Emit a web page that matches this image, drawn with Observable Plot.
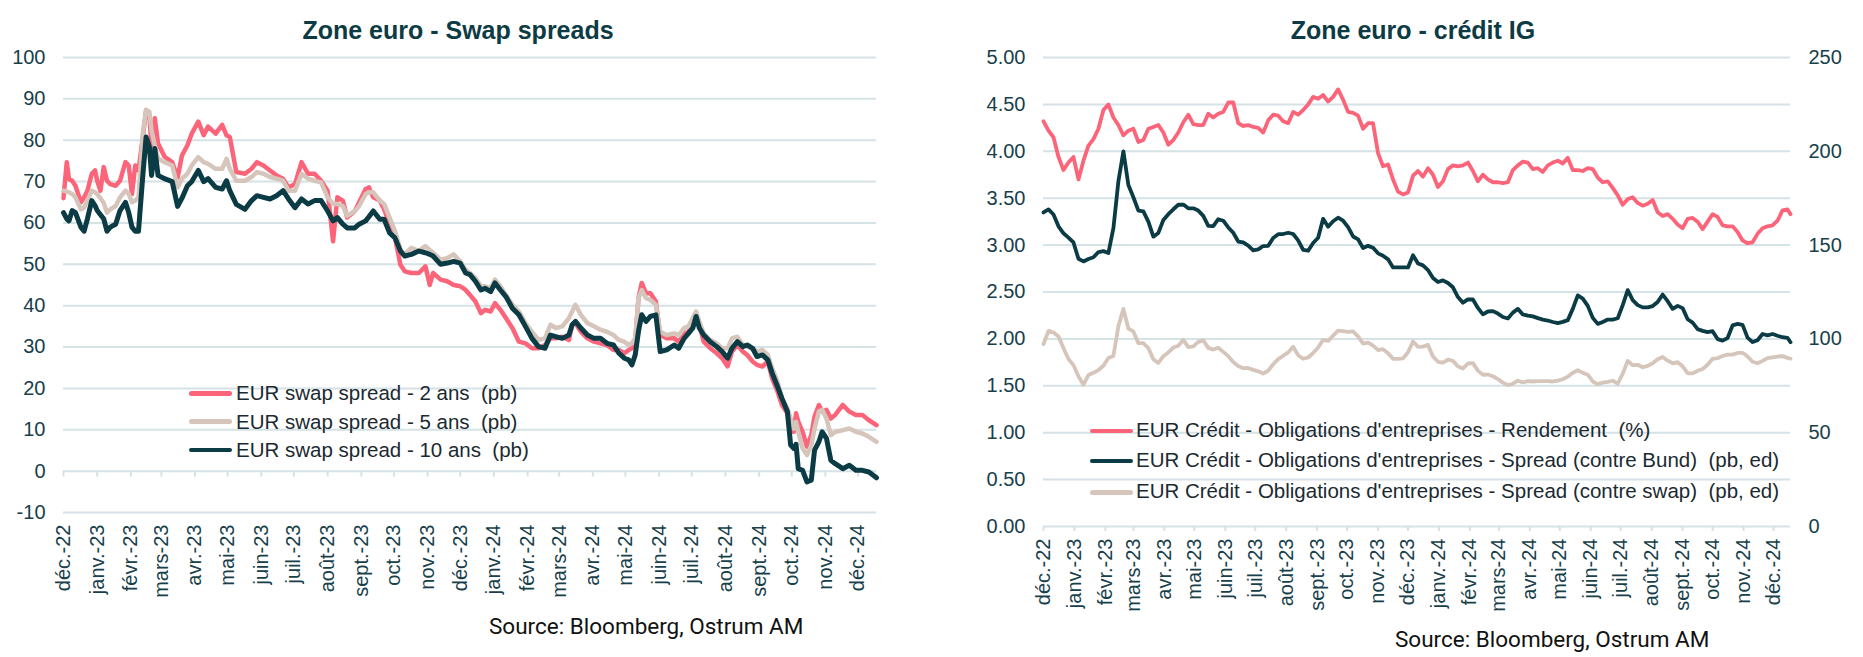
<!DOCTYPE html>
<html><head><meta charset="utf-8">
<script src="https://cdn.jsdelivr.net/npm/d3@7"></script>
<script src="https://cdn.jsdelivr.net/npm/@observablehq/plot@0.6"></script>
<style>
body{margin:0;background:#fff;width:1863px;height:657px;position:relative;overflow:hidden;font-family:Arial,"Liberation Sans",sans-serif;}
.abs{position:absolute;line-height:1;white-space:pre;}
.title{font-weight:bold;font-size:25px;color:#0d3b44;transform:translateX(-50%);}
.leg{font-size:20.5px;color:#1b2a30;}
.sw{height:4.5px;border-radius:3px;width:43px;}
.src{font-family:Roboto,"Liberation Sans",sans-serif;font-size:22.5px;color:#111;}
</style></head>
<body>
<div id="left" class="abs" style="left:0;top:0"></div>
<div id="right" class="abs" style="left:930px;top:0"></div>
<script>
// ---------- shared axis data ----------
const monthTicks = ["2022-12-01","2023-01-01","2023-02-01","2023-03-01","2023-04-01","2023-05-01","2023-06-01","2023-07-01","2023-08-01","2023-09-01","2023-10-01","2023-11-01","2023-12-01","2024-01-01","2024-02-01","2024-03-01","2024-04-01","2024-05-01","2024-06-01","2024-07-01","2024-08-01","2024-09-01","2024-10-01","2024-11-01","2024-12-01"];
const monthLabels = ["déc.-22","janv.-23","févr.-23","mars-23","avr.-23","mai-23","juin-23","juil.-23","août-23","sept.-23","oct.-23","nov.-23","déc.-23","janv.-24","févr.-24","mars-24","avr.-24","mai-24","juin-24","juil.-24","août-24","sept.-24","oct.-24","nov.-24","déc.-24"];
const xStart = "2022-12-01", xEnd = "2024-12-18";

// ---------- left chart: swap spreads (pb) ----------
const swapTitle = "Zone euro - Swap spreads";
const swapYTicks = [-10,0,10,20,30,40,50,60,70,80,90,100];
const swapSeries = ["EUR swap spread - 2 ans  (pb)","EUR swap spread - 5 ans  (pb)","EUR swap spread - 10 ans  (pb)"];
const swapDates = ["2022-12-01","2022-12-04","2022-12-06","2022-12-09","2022-12-12","2022-12-17","2022-12-20","2022-12-23","2022-12-27","2022-12-30",
"2023-01-01","2023-01-04","2023-01-07","2023-01-10","2023-01-13","2023-01-18","2023-01-22","2023-01-27","2023-01-30",
"2023-02-02","2023-02-05","2023-02-08","2023-02-12","2023-02-15","2023-02-18","2023-02-20","2023-02-23","2023-02-26",
"2023-03-04","2023-03-11","2023-03-16","2023-03-20","2023-03-25","2023-03-29",
"2023-04-04","2023-04-09","2023-04-13","2023-04-20","2023-04-26","2023-04-30",
"2023-05-03","2023-05-09","2023-05-17","2023-05-23","2023-05-28",
"2023-06-03","2023-06-09","2023-06-15","2023-06-21","2023-06-26",
"2023-07-02","2023-07-08","2023-07-14","2023-07-20","2023-07-26",
"2023-08-01","2023-08-06","2023-08-10","2023-08-15","2023-08-19","2023-08-26","2023-08-30",
"2023-09-05","2023-09-08","2023-09-12","2023-09-18","2023-09-22","2023-09-27",
"2023-10-02","2023-10-07","2023-10-11","2023-10-17","2023-10-24","2023-10-30",
"2023-11-03","2023-11-06","2023-11-13","2023-11-19","2023-11-25",
"2023-12-01","2023-12-06","2023-12-10","2023-12-15","2023-12-20","2023-12-24","2023-12-29",
"2024-01-02","2024-01-07","2024-01-12","2024-01-18","2024-01-24","2024-01-30",
"2024-02-05","2024-02-11","2024-02-17","2024-02-22","2024-02-27",
"2024-03-04","2024-03-10","2024-03-13","2024-03-16","2024-03-21","2024-03-27",
"2024-04-02","2024-04-08","2024-04-14","2024-04-20","2024-04-25","2024-04-30",
"2024-05-04","2024-05-07","2024-05-10","2024-05-13","2024-05-16","2024-05-20","2024-05-24","2024-05-29",
"2024-06-02","2024-06-08","2024-06-15","2024-06-19","2024-06-24","2024-06-28",
"2024-07-02","2024-07-05","2024-07-08","2024-07-12","2024-07-18","2024-07-24","2024-07-29",
"2024-08-03","2024-08-07","2024-08-12","2024-08-17","2024-08-21","2024-08-26","2024-08-30",
"2024-09-04","2024-09-09","2024-09-13","2024-09-18","2024-09-22","2024-09-27","2024-09-30",
"2024-10-03","2024-10-05","2024-10-07","2024-10-11","2024-10-15","2024-10-19","2024-10-22","2024-10-26","2024-10-29",
"2024-11-02","2024-11-06","2024-11-10","2024-11-17","2024-11-23","2024-11-29",
"2024-12-05","2024-12-11","2024-12-18"];
const swap2y = [66,74.7,70.6,70.2,69,65,66.2,67.8,71.9,72.7,
70.2,67.8,73.5,70.2,69.4,69,70.2,74.7,73.9,
67,73.9,72.7,80.8,87.3,86.1,78.4,85.3,79.2,
76,74.7,71,76.3,78.8,81.6,
84.5,81.2,83.3,81.6,83.7,81.2,
80.8,72.3,71.9,73.1,74.7,
73.9,72.7,71.5,70.7,68.6,
69.4,74.7,71.9,71.9,70.2,
67.8,55.6,66.2,65.4,61.3,62.9,65,
68.2,68.6,66.2,65.4,63.3,59.7,
56.4,49.9,48.3,47.9,47.9,49.5,
45,47.9,46.3,45.9,45,
44.7,43.8,42.6,41,38.2,39,38.6,
40.6,39,37,34.6,31.3,30.9,
29.7,29.7,30.5,32.1,32.1,
32.5,31.7,35.4,35.8,33.7,32.1,
31.3,30.9,30.5,29.3,29.3,28.5,
29.3,29.7,31.3,41.8,45.5,43,43,41,
32.9,32.1,32.1,31.3,33.3,33.7,
35.4,37.8,35.4,31.3,29.7,28.5,27.3,
25.3,28.9,30.5,28.9,28.1,26.5,25.7,
25.3,26.5,22.4,19.2,16,14,9.5,
9.5,14,12,9.5,5.9,8.7,13.2,16,14.4,
14.8,12.7,13.6,16,14.4,13.6,
13.6,12.3,11.1];
const swap5y = [67.8,67.6,67.4,67,66.2,63.3,63.7,65.4,67.8,67.4,
67,66,64.8,62.5,63.3,64.1,66.2,67.8,67,
65,65.4,66.2,81.6,87.3,86.9,82.4,78.8,75.5,
74.7,73.9,68.6,70.7,71.9,73.9,
75.9,74.7,74.3,73.1,73.1,75.5,
73.1,70.2,70.2,71.1,72.3,
71.9,71.1,70.7,70.2,67.8,
67.8,71.9,70.7,70.2,69.8,
66.2,64.6,64.6,64.1,61.7,62.9,64.1,
67,67.4,67.4,65.4,64.6,61.3,
58,53.6,52.4,54,53.2,54.4,
53.5,52.8,51.1,51.5,52.4,
50.7,48.7,47.9,46.7,44.7,44.7,44.2,
46.3,44.7,42.6,40.2,38.6,35.8,
33.7,31.7,32.1,35.4,34.6,
35,37,38.6,40.2,37.8,35.8,
35,34.2,33.7,32.9,31.7,31.3,
30.5,30.9,32.1,41.8,43.8,41.8,41.4,40.2,
33.7,32.9,33.3,32.9,34.6,35,
37,38.6,36.2,33.3,31.7,30.9,29.7,
29.7,32.1,32.5,30.5,30.1,29.7,28.9,
29.3,28.1,24.9,21.6,17.6,15.2,12.7,
10.3,11.9,9.5,5.5,3.9,6.3,10.3,14.4,14.8,
12.7,8.7,9.5,9.9,10.3,9.5,
9.1,8.3,7.1];
const swap10y = [62.5,61,60.5,63,62.5,59,58,61,65.4,64.2,
63,62,61,58,59,59.7,63,65,62.5,
59,58,58,71.5,80.8,78.4,71.5,78,71.5,
70.7,70,64,66,69,70,
72.7,70,70.7,68.6,68.2,70.2,
67.8,64.5,63.3,65.4,66.6,
66.2,65.8,66.6,67.8,65.8,
63.7,65.8,64.6,65.4,65.4,
62.9,60.5,61.3,59.7,58.8,58.8,59.7,
60.5,61.5,62.9,60.9,60.9,57.6,
56.4,53.2,52,52.4,53.2,52.8,
52.4,52,50,50.3,50.7,
50.3,47.9,47.5,45.9,43.8,44.2,43.4,
45.5,43.8,42.2,39.4,37.8,35,
32.1,30.1,29.7,32.9,32.5,
32.1,32.9,35.4,36.2,34.6,32.9,
32.1,32.1,30.9,30.5,28.5,27.3,
26.9,25.7,28.1,33.8,37.8,36.2,37.4,37.8,
28.9,29.3,30.5,29.7,32.1,33.3,
34.6,37.4,34.6,32.9,31.3,30.1,28.9,
27.3,29.7,31.3,30.1,30.5,29.7,27.7,
28.1,26.9,23.7,20.4,17.6,14.4,6.3,
5.5,6.5,0.6,0.2,-2.6,-2.2,5.1,7.1,9.5,
7.9,2.6,1.8,0.6,1.4,0.2,
0.2,-0.2,-1.6];

// ---------- right chart: crédit IG ----------
const creditTitle = "Zone euro - crédit IG";
const creditLeftTicks = [0,0.5,1,1.5,2,2.5,3,3.5,4,4.5,5];
const creditRightTicks = [0,50,100,150,200,250];
const creditSeries = ["EUR Crédit - Obligations d'entreprises - Rendement  (%)","EUR Crédit - Obligations d'entreprises - Spread (contre Bund)  (pb, ed)","EUR Crédit - Obligations d'entreprises - Spread (contre swap)  (pb, ed)"];
const creditDates = ["2022-12-01","2022-12-06","2022-12-11","2022-12-16","2022-12-21","2022-12-26","2022-12-31",
"2023-01-05","2023-01-10","2023-01-15","2023-01-20","2023-01-25","2023-01-30",
"2023-02-04","2023-02-09","2023-02-14","2023-02-19","2023-02-24",
"2023-03-01","2023-03-06","2023-03-11","2023-03-16","2023-03-21","2023-03-26","2023-03-31",
"2023-04-05","2023-04-10","2023-04-15","2023-04-20","2023-04-25","2023-04-30",
"2023-05-05","2023-05-10","2023-05-15","2023-05-20","2023-05-25","2023-05-30",
"2023-06-04","2023-06-09","2023-06-14","2023-06-19","2023-06-24","2023-06-29",
"2023-07-04","2023-07-09","2023-07-14","2023-07-19","2023-07-24","2023-07-29",
"2023-08-03","2023-08-08","2023-08-13","2023-08-18","2023-08-23","2023-08-28",
"2023-09-02","2023-09-07","2023-09-12","2023-09-17","2023-09-22","2023-09-27",
"2023-10-02","2023-10-07","2023-10-12","2023-10-17","2023-10-22","2023-10-27",
"2023-11-01","2023-11-06","2023-11-11","2023-11-16","2023-11-21","2023-11-26",
"2023-12-01","2023-12-06","2023-12-11","2023-12-16","2023-12-21","2023-12-26","2023-12-31",
"2024-01-05","2024-01-10","2024-01-15","2024-01-20","2024-01-25","2024-01-30",
"2024-02-04","2024-02-09","2024-02-14","2024-02-19","2024-02-24","2024-02-29",
"2024-03-05","2024-03-10","2024-03-15","2024-03-20","2024-03-25","2024-03-30",
"2024-04-04","2024-04-09","2024-04-14","2024-04-19","2024-04-24","2024-04-29",
"2024-05-04","2024-05-09","2024-05-14","2024-05-19","2024-05-24","2024-05-29",
"2024-06-03","2024-06-08","2024-06-13","2024-06-18","2024-06-23","2024-06-28",
"2024-07-03","2024-07-08","2024-07-13","2024-07-18","2024-07-23","2024-07-28",
"2024-08-02","2024-08-07","2024-08-12","2024-08-17","2024-08-22","2024-08-27",
"2024-09-01","2024-09-06","2024-09-11","2024-09-16","2024-09-21","2024-09-26",
"2024-10-01","2024-10-06","2024-10-11","2024-10-16","2024-10-21","2024-10-26","2024-10-31",
"2024-11-05","2024-11-10","2024-11-15","2024-11-20","2024-11-25","2024-11-30",
"2024-12-05","2024-12-10","2024-12-15","2024-12-18"];
const creditYield = [4.32,4.22,4.15,3.94,3.8,3.88,3.94,
3.7,3.9,4.06,4.13,4.24,4.44,
4.5,4.36,4.28,4.17,4.22,
4.24,4.1,4.12,4.24,4.26,4.28,4.2,
4.07,4.12,4.2,4.31,4.39,4.29,
4.28,4.28,4.4,4.36,4.4,4.42,
4.52,4.52,4.3,4.27,4.28,4.26,
4.25,4.2,4.33,4.39,4.38,4.32,
4.3,4.42,4.39,4.44,4.5,4.58,
4.56,4.6,4.53,4.58,4.66,4.55,
4.42,4.41,4.38,4.24,4.3,4.3,
3.98,3.84,3.86,3.7,3.57,3.54,
3.56,3.74,3.79,3.73,3.82,3.75,3.62,
3.68,3.81,3.85,3.84,3.85,3.88,
3.79,3.68,3.75,3.7,3.67,3.67,
3.66,3.67,3.8,3.85,3.89,3.88,
3.81,3.82,3.78,3.85,3.88,3.9,
3.87,3.93,3.8,3.8,3.79,3.82,
3.81,3.72,3.67,3.68,3.61,3.53,
3.43,3.49,3.51,3.45,3.42,3.44,
3.48,3.35,3.31,3.33,3.28,3.22,
3.18,3.28,3.29,3.25,3.17,3.25,
3.33,3.3,3.21,3.2,3.2,3.14,3.05,
3.02,3.03,3.12,3.18,3.2,3.21,
3.26,3.37,3.38,3.33];
const creditBund = [167.4,169,166.3,160,156.3,154,151.4,
142.7,141.3,142.6,143.5,146.3,146.8,
145.8,159,184,200,182,
175.5,168.4,168,162.5,154.5,156.5,163.4,
166.5,169.1,171.5,171.6,169.6,169.6,
168.4,165.6,160.3,160.1,163.8,163,
159.4,156.6,151.9,151.4,149.7,147.2,
147.7,149.5,149.6,153.8,155.8,155.9,
156.6,155.9,152.5,147.4,147,151.1,
153.9,164,159.8,162.7,164.6,163,
159.6,154.6,153.1,148.4,149.6,148.6,
145.6,144.3,142.4,138.1,138.1,138.1,
138.1,144.6,140.2,139.2,136.7,132.5,130.3,
131.2,129.8,127.5,122.3,119.3,121.1,
121,116.5,113.1,114.6,114.8,113.5,
111.7,110.9,114,116,113,112.4,
112,111.1,110.3,109.8,109,108.4,
109.1,110,116,123.2,121.5,117.6,
111.2,108,109,110.3,110.3,111,
118,126,120.7,118,116.8,116.8,
117.5,119.7,123.6,120.1,116,117.6,
116.4,110.5,108.7,105.2,104.3,103.6,
104.1,99.9,99.1,100.5,107.2,108,107.5,
100.7,98.3,99.3,102.6,101.9,102.6,
101.7,100.9,100.6,98.2];
const creditSwap = [97.3,104.3,103.4,101.3,95.1,89.3,86,
80.1,75.6,80.7,81.9,83.4,85.7,
89.8,90.9,106.8,116,105.5,
104,97.7,97.8,95,89.2,87.2,90.8,
92.8,95.4,96.4,99.5,95.6,96,
98.4,99.2,95.2,94.3,95.3,93.1,
90.8,87.7,85.5,84.4,84.5,83.5,
82.7,81.5,83.1,86.5,89.2,91,
92.8,95.8,91.3,89.4,90.1,92.5,
95.4,99.5,98.9,101.8,104.4,104.2,
103.7,104,101.3,97.5,98,96.4,
94,94.5,92.4,89.4,89.4,89.6,
92.9,98.6,95.8,95.9,96.8,90.6,87.8,
87.4,88.9,88.3,85.3,84.2,86.9,
87.1,83.1,80.9,81,80.1,78.6,
76.7,75.4,76.1,77.7,76.8,77.5,
77.3,77.5,77.5,77.5,77.3,77.8,
78.5,79.9,81.9,83.3,81.9,80.9,
77.3,75.9,76.7,77.1,77.7,76.1,
81.5,88.2,86,86.2,84.9,85.6,
87,89.2,90.4,88.4,87,87.6,
85.4,81.7,81.6,83,84,86.2,
89.4,89.7,90.9,91.6,91.6,92.5,92.6,
90.6,87.8,87,88.3,89.8,90.2,
90.6,90.8,89.9,89.4];

const sourceText = "Source: Bloomberg, Ostrum AM";

// ---------- styling ----------
const PINK = "#fb6479", BEIGE = "#d6c5ba", DARK = "#0b3c45", GRID = "#d5e2e6";
const parse = d3.utcParse("%Y-%m-%d");
const monthDates = monthTicks.map(parse);
const labelOf = new Map(monthDates.map((d, i) => [+d, monthLabels[i]]));
const xDomain = [parse(xStart), parse(xEnd)];
const svgStyle = {fontFamily: "Arial, 'Liberation Sans', sans-serif", fontSize: "20px", color: "#17404a", background: "transparent", overflow: "visible"};

const swapX = swapDates.map(parse);
const swapLines = [[swap2y, PINK, 4.5], [swap5y, BEIGE, 4.5], [swap10y, DARK, 5]];
const left = Plot.plot({
  width: 900, height: 610,
  marginTop: 57, marginBottom: 98, marginLeft: 63, marginRight: 24,
  x: {type: "utc", domain: xDomain},
  y: {domain: [-10, 100]},
  style: svgStyle,
  marks: [
    Plot.ruleY(swapYTicks, {stroke: GRID, strokeWidth: 2}),
    Plot.ruleX(monthDates, {x: d => d, y1: 0, y2: 0, insetBottom: -6, stroke: GRID, strokeWidth: 2}),
    Plot.axisY({ticks: swapYTicks, tickFormat: d => String(d), tickSize: 0, tickPadding: 18, label: null}),
    Plot.axisX({ticks: monthDates, tickFormat: d => labelOf.get(+d), tickRotate: -90, tickSize: 0, tickPadding: 12, label: null}),
    ...swapLines.map(([vals, c, w]) => Plot.line(vals, {x: swapX, y: vals, stroke: c, strokeWidth: w, strokeLinejoin: "round", strokeLinecap: "round"}))
  ]
});
document.getElementById("left").append(left);

const creditX = creditDates.map(parse);
const creditLines = [
  [creditYield.map(v => v), PINK],
  [creditSwap.map(v => v / 50), BEIGE],
  [creditBund.map(v => v / 50), DARK]
];
const right = Plot.plot({
  width: 933, height: 620,
  marginTop: 57, marginBottom: 94, marginLeft: 113, marginRight: 73,
  x: {type: "utc", domain: xDomain},
  y: {domain: [0, 5]},
  style: svgStyle,
  marks: [
    Plot.ruleY(creditLeftTicks, {stroke: GRID, strokeWidth: 2}),
    Plot.ruleX(monthDates, {x: d => d, y1: 0, y2: 0, insetBottom: -5, stroke: GRID, strokeWidth: 2}),
    Plot.axisY({anchor: "left", ticks: creditLeftTicks, tickFormat: d => d.toFixed(2), tickSize: 0, tickPadding: 18, label: null}),
    Plot.axisY({anchor: "right", ticks: creditRightTicks.map(v => v / 50), tickFormat: d => String(Math.round(d * 50)), tickSize: 0, tickPadding: 18, label: null}),
    Plot.axisX({ticks: monthDates, tickFormat: d => labelOf.get(+d), tickRotate: -90, tickSize: 0, tickPadding: 12, label: null}),
    ...creditLines.map(([vals, c]) => Plot.line(vals, {x: creditX, y: vals, stroke: c, strokeWidth: 3.8, strokeLinejoin: "round", strokeLinecap: "round"}))
  ]
});
document.getElementById("right").append(right);

// ---------- titles, legends, sources ----------
function addDiv(cls, text, x, y, extra) {
  const el = document.createElement("div");
  el.className = "abs " + cls;
  el.textContent = text;
  el.style.left = x + "px";
  el.style.top = y + "px";
  if (extra) Object.assign(el.style, extra);
  document.body.append(el);
  return el;
}
addDiv("title", swapTitle, 458, 18);
addDiv("title", creditTitle, 1413, 18);

function legend(labels, colors, swX, textX, centers, baseOff) {
  labels.forEach((t, i) => {
    addDiv("sw", "", swX, centers[i] - 2.25, {background: colors[i]});
    addDiv("leg", t, textX, centers[i] + baseOff - 17.8);
  });
}
legend(swapSeries, [PINK, BEIGE, DARK], 189, 236, [393.3, 421.7, 450], 7.7);
legend(creditSeries, [PINK, DARK, BEIGE], 1090, 1136, [431, 461, 492.3], 6.7);

addDiv("src", sourceText, 489, 615);
addDiv("src", sourceText, 1395, 628);
</script>
</body></html>
